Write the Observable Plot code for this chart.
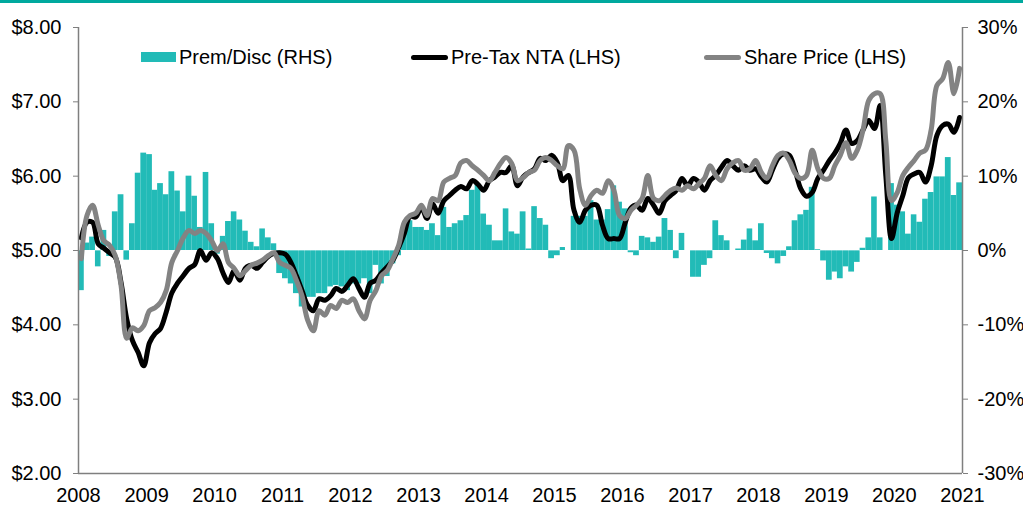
<!DOCTYPE html>
<html>
<head>
<meta charset="utf-8">
<script src="https://cdn.jsdelivr.net/npm/d3@7"></script>
<script src="https://cdn.jsdelivr.net/npm/@observablehq/plot@0.6"></script>
<style>
  html, body { margin: 0; padding: 0; background: #fff; }
  body { width: 1023px; height: 504px; border-top: 3px solid #00a99e; overflow: hidden; font-family: "Liberation Sans", Arial, sans-serif; }
  #wrap { position: relative; width: 1023px; height: 504px; }
  .leg { position: absolute; display: flex; align-items: center; height: 24px; font-size: 20px; color: #000; white-space: nowrap; }
  .sw { display: inline-block; margin-right: 3px; }
</style>
</head>
<body>
<div id="wrap">
  <div class="leg" style="left:141px; top:42px;"><span class="sw" style="width:35px;height:10px;background:#22bbb7;"></span>Prem/Disc (RHS)</div>
  <div class="leg" style="left:411px; top:42px;"><span class="sw" style="width:37px;height:5px;border-radius:3px;background:#000;"></span>Pre-Tax NTA (LHS)</div>
  <div class="leg" style="left:704px; top:42px;"><span class="sw" style="width:37px;height:5px;border-radius:3px;background:#838383;"></span>Share Price (LHS)</div>
</div>
<script>
// Monthly observations, Jan 2008 .. Dec 2020
const startMonth = "2008-01-01";
const endMonth = "2021-01-01";

// Premium / discount of share price to pre-tax NTA (%), right axis
const premDisc = [
  -5.4, 1.0, 1.8, -2.2, 2.7, -0.8, 5.2, 7.5, -1.3, 3.6, 10.4, 13.1,
  12.9, 8.1, 9.0, 7.5, 10.6, 8.0, 5.2, 10.0, 7.3, 3.1, 10.5, 3.6,
  -0.5, 1.9, 3.9, 5.2, 4.1, 2.6, 1.1, 0.5, 2.9, 1.7, 0.9, -3.1,
  -3.8, -4.5, -5.8, -7.6, -6.3, -6.3, -5.8, -5.8, -4.9, -4.7, -4.9, -5.4,
  -4.5, -4.5, -3.8, -5.8, -2.0, -4.5, -3.5, -1.8, -0.7, 2.2, 4.0, 3.1,
  3.1, 2.7, 3.6, 2.0, 5.8, 3.1, 3.6, 4.0, 4.7, 8.1, 8.9, 4.9,
  3.4, 1.3, 1.3, 5.6, 2.5, 2.2, 5.2, 0.2, 5.9, 4.3, 3.4, -1.1,
  -0.7, 0.4, 0.0, 4.6, 4.6, 4.6, 6.7, 4.1, 4.1, 5.5, 8.7, 6.5,
  5.6, -0.3, -0.7, 1.9, 1.7, 1.1, 1.8, 4.3, 2.7, -1.1, 2.3, 0.0,
  -3.6, -3.6, -2.0, -1.1, 4.0, 2.0, 1.3, 0.0, 0.2, 1.4, 2.9, 1.3,
  3.6, -0.4, -1.1, -1.8, -0.8, 0.5, 4.0, 4.8, 5.4, 8.5, 0.1, -1.4,
  -4.0, -2.9, -3.8, -2.2, -2.9, -1.6, 0.3, 1.7, 7.2, 1.7, 0.0, 9.0,
  6.1, 5.2, 2.2, 4.8, 3.8, 6.9, 7.8, 9.9, 9.9, 12.5, 7.4, 9.1
];

// Pre-tax NTA per share ($), left axis
const preTaxNTA = [
  5.17, 5.38, 5.38, 5.09, 5.03, 4.97, 4.91, 4.57, 4.08, 3.79, 3.63, 3.45,
  3.76, 3.88, 3.95, 4.17, 4.43, 4.56, 4.66, 4.76, 4.81, 5.00, 4.87, 4.97,
  4.89, 4.70, 4.57, 4.73, 4.60, 4.76, 4.80, 4.76, 4.84, 4.92, 4.96, 4.97,
  4.95, 4.84, 4.66, 4.46, 4.26, 4.19, 4.35, 4.33, 4.39, 4.49, 4.45, 4.53,
  4.62, 4.49, 4.37, 4.56, 4.60, 4.70, 4.78, 4.87, 5.04, 5.23, 5.46, 5.45,
  5.58, 5.43, 5.63, 5.50, 5.67, 5.74, 5.81, 5.86, 5.83, 5.94, 5.89, 5.81,
  5.94, 5.99, 6.05, 6.05, 6.14, 5.87, 5.99, 6.05, 6.10, 6.24, 6.21, 6.28,
  6.18, 5.94, 6.01, 5.54, 5.38, 5.54, 5.61, 5.61, 5.34, 5.16, 5.16, 5.16,
  5.38, 5.57, 5.61, 5.54, 5.70, 5.61, 5.50, 5.67, 5.74, 5.81, 5.97, 5.87,
  5.97, 5.92, 5.81, 5.94, 6.01, 6.12, 6.21, 6.14, 6.08, 6.14, 6.08, 6.10,
  5.99, 5.92, 6.08, 6.24, 6.30, 6.28, 6.08, 5.83, 5.73, 5.78, 5.97, 6.08,
  6.21, 6.31, 6.44, 6.62, 6.44, 6.48, 6.62, 6.75, 6.64, 6.95, 6.01, 5.16,
  5.51, 5.74, 5.98, 6.03, 6.05, 5.92, 6.14, 6.55, 6.68, 6.70, 6.59, 6.79
];

// Share price ($), left axis
const sharePrice = [
  4.89, 5.47, 5.61, 5.34, 5.13, 5.07, 4.93, 4.53, 3.82, 3.96, 3.92, 3.99,
  4.19, 4.23, 4.30, 4.46, 4.84, 5.00, 5.17, 5.27, 5.23, 5.27, 5.23, 5.13,
  5.00, 5.09, 4.84, 4.76, 4.66, 4.73, 4.80, 4.83, 4.87, 4.93, 4.97, 4.84,
  4.80, 4.76, 4.60, 4.39, 4.06, 3.92, 4.19, 4.13, 4.26, 4.22, 4.33, 4.30,
  4.35, 4.19, 4.08, 4.33, 4.46, 4.66, 4.73, 4.89, 5.07, 5.38, 5.47, 5.50,
  5.61, 5.47, 5.70, 5.67, 5.92, 5.97, 6.01, 6.18, 6.21, 6.14, 6.08, 6.01,
  5.94, 6.05, 6.17, 6.25, 6.17, 5.94, 5.98, 6.05, 6.08, 6.21, 6.25, 6.21,
  6.14, 6.10, 6.41, 6.35, 5.83, 5.61, 5.74, 5.81, 5.77, 5.94, 5.81, 5.47,
  5.43, 5.54, 5.61, 5.70, 6.01, 5.70, 5.67, 5.74, 5.81, 5.84, 5.81, 5.87,
  5.83, 5.90, 5.97, 6.14, 6.01, 5.94, 6.10, 6.18, 6.21, 6.08, 6.10, 6.21,
  6.05, 5.97, 6.14, 6.28, 6.31, 6.21, 6.04, 5.97, 6.01, 6.35, 6.10, 5.97,
  5.97, 6.14, 6.28, 6.45, 6.24, 6.35, 6.62, 7.02, 7.11, 7.11, 6.48, 5.67,
  5.78, 6.01, 6.12, 6.21, 6.31, 6.35, 6.62, 7.22, 7.31, 7.53, 7.11, 7.45
];

// Axis ticks
const priceTicks = [2, 3, 4, 5, 6, 7, 8];
const pctTickLabels = ["-30%", "-20%", "-10%", "0%", "10%", "20%", "30%"];
const yearTicks = [2008, 2009, 2010, 2011, 2012, 2013, 2014, 2015, 2016, 2017, 2018, 2019, 2020, 2021];

// Build table
const months = d3.utcMonth.range(new Date(startMonth), new Date(endMonth));
const rows = months.map((m, i) => ({
  start: m,
  end: d3.utcMonth.offset(m, 1),
  mid: new Date((m.getTime() + d3.utcMonth.offset(m, 1).getTime()) / 2),
  pd: premDisc[i],
  nta: preTaxNTA[i],
  sp: sharePrice[i]
}));

// right axis (%) mapped onto the left ($) scale: 0% <-> $5.00, 10% <-> $1.00
const pctToPrice = p => 5 + p / 10;

const chart = Plot.plot({
  width: 1023,
  height: 504,
  marginLeft: 78,
  marginRight: 61,
  marginTop: 24,
  marginBottom: 34,
  style: { fontFamily: "'Liberation Sans', Arial, sans-serif", fontSize: "20px", color: "#000", background: "transparent", overflow: "visible" },
  x: { type: "utc", domain: [new Date(startMonth), new Date(endMonth)] },
  y: { domain: [2, 8] },
  marks: [
    Plot.rectY(rows, { x1: "start", x2: "end", y1: 5, y2: d => pctToPrice(d.pd), fill: "#22bbb7", inset: 0 }),
    Plot.ruleY([5], { stroke: "#ffffff", strokeOpacity: 0.35, strokeWidth: 1 }),
    Plot.line(rows, { x: "mid", y: "nta", stroke: "#000", strokeWidth: 5, curve: "catmull-rom", strokeLinejoin: "round", strokeLinecap: "round" }),
    Plot.line(rows, { x: "mid", y: "sp", stroke: "#838383", strokeWidth: 5, curve: "catmull-rom", strokeLinejoin: "round", strokeLinecap: "round" }),
    Plot.ruleY([2], { stroke: "#7f7f7f", strokeWidth: 1.5 }),
    Plot.ruleX([new Date(startMonth), new Date(endMonth)], { y1: 2, y2: 8, stroke: "#7f7f7f", strokeWidth: 1.5 }),
    Plot.axisY(priceTicks, { anchor: "left", tickSize: 5, tickPadding: 12, stroke: "#7f7f7f", fill: "#000", label: null, tickFormat: d => "$" + d.toFixed(2) }),
    Plot.axisY(priceTicks, { anchor: "right", tickSize: 5, tickPadding: 10, stroke: "#7f7f7f", fill: "#000", label: null, tickFormat: (d, i) => pctTickLabels[i] }),
    Plot.axisX(yearTicks.map(y => new Date(Date.UTC(y, 0, 1))), { anchor: "bottom", tickSize: 0, tickPadding: 14, fill: "#000", label: null, tickFormat: d3.utcFormat("%Y") })
  ]
});
chart.style.position = "absolute";
chart.style.left = "0";
chart.style.top = "0";
document.getElementById("wrap").prepend(chart);
</script>
</body>
</html>
